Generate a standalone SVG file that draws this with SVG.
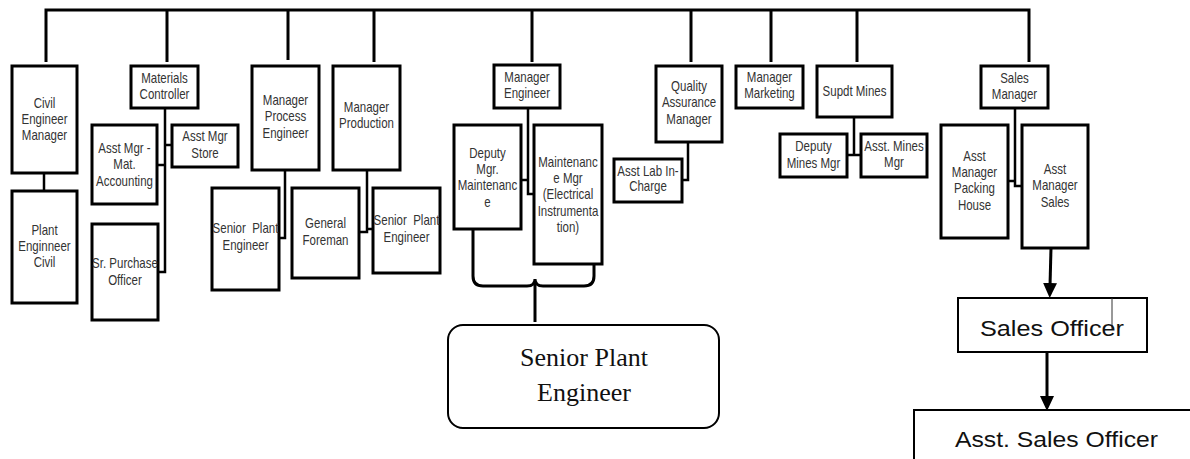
<svg xmlns="http://www.w3.org/2000/svg" width="1190" height="459" viewBox="0 0 1190 459">
<style>
.b{fill:#fff;stroke:#000;stroke-width:3}
.b2{fill:#fff;stroke:#000;stroke-width:2}
.c{fill:none;stroke:#000;stroke-width:3;stroke-linejoin:miter}
.ci{fill:none;stroke:#000;stroke-width:2.5}
.t{font-family:"Liberation Sans",Arial,sans-serif;font-size:11.5px;fill:#333;text-anchor:middle;white-space:pre}
.big{font-family:"Liberation Sans",Arial,sans-serif;font-size:22px;fill:#111}
.ser{font-family:"Liberation Serif","Times New Roman",serif;font-size:26px;fill:#111;text-anchor:middle}
</style>
<defs>
<marker id="ah" viewBox="0 0 15 14" refX="3" refY="7" markerWidth="15" markerHeight="14" markerUnits="userSpaceOnUse" orient="auto">
<path d="M0,0 L15,7 L0,14 z" fill="#000"/>
</marker>
</defs>
<g id="connectors">
<path class="c" d="M46,62 V10 H1029 V62"/>
<path class="c" d="M167,10 V62 M288,10 V60 M374,10 V62 M532,10 V62 M691,10 V62 M771,10 V62 M857,10 V62"/>
<path class="ci" d="M44,173 V191"/>
<path class="ci" d="M165,108 V272 H158 M165,145 H172 M157,165 H165"/>
<path class="ci" d="M285,170 V238 H279"/>
<path class="ci" d="M367,170 V232 H359 M367,229 H373"/>
<path class="ci" d="M528,108 V194 H534 M521,180 H528"/>
<path class="ci" d="M688,142 V180 H682"/>
<path class="ci" d="M854,117 V155 M847,155 H861"/>
<path class="ci" d="M1015,108 V186 H1022 M1008,181 H1015"/>
<path class="c" d="M473,229 V276 Q473,286 483,286 H527 Q535,286 535,279 Q535,286 543,286 H584 Q594,286 594,276 V264"/>
<path class="c" d="M535,282 V322"/>
<path class="c" d="M1051,248 L1050,286" marker-end="url(#ah)"/>
<path class="c" d="M1047,352 L1047,399" marker-end="url(#ah)"/>
</g>
<g id="civil-engineer-manager"><rect class="b" x="12" y="66" width="65" height="107"/>
<text class="t" transform="translate(44.5,108) scale(1,1.25)"><tspan x="0" y="0">Civil</tspan><tspan x="0" dy="12.8">Engineer</tspan><tspan x="0" dy="12.8">Manager</tspan></text></g>
<g id="plant-engineer-civil"><rect class="b" x="12" y="191" width="65" height="112"/>
<text class="t" transform="translate(44.5,235) scale(1,1.25)"><tspan x="0" y="0">Plant</tspan><tspan x="0" dy="12.8">Enginneer</tspan><tspan x="0" dy="12.8">Civil</tspan></text></g>
<g id="materials-controller"><rect class="b" x="131" y="66" width="67" height="42"/>
<text class="t" transform="translate(164.5,83) scale(1,1.25)"><tspan x="0" y="0">Materials</tspan><tspan x="0" dy="13">Controller</tspan></text></g>
<g id="asst-mgr-mat-accounting"><rect class="b" x="92" y="125" width="65" height="79"/>
<text class="t" transform="translate(124.5,153) scale(1,1.25)"><tspan x="0" y="0">Asst Mgr -</tspan><tspan x="0" dy="13.2">Mat.</tspan><tspan x="0" dy="13.2">Accounting</tspan></text></g>
<g id="asst-mgr-store"><rect class="b" x="172" y="125" width="66" height="42"/>
<text class="t" transform="translate(205,141) scale(1,1.25)"><tspan x="0" y="0">Asst Mgr</tspan><tspan x="0" dy="13.6">Store</tspan></text></g>
<g id="sr-purchase-officer"><rect class="b" x="92" y="224" width="66" height="96"/>
<text class="t" transform="translate(125,268) scale(1,1.25)"><tspan x="0" y="0">Sr. Purchase</tspan><tspan x="0" dy="13.6">Officer</tspan></text></g>
<g id="manager-process-engineer"><rect class="b" x="252" y="66" width="67" height="104"/>
<text class="t" transform="translate(285.5,105) scale(1,1.25)"><tspan x="0" y="0">Manager</tspan><tspan x="0" dy="13.2">Process</tspan><tspan x="0" dy="13.2">Engineer</tspan></text></g>
<g id="senior-plant-engineer-1"><rect class="b" x="212" y="188" width="67" height="102"/>
<text class="t" transform="translate(245.5,233) scale(1,1.25)"><tspan x="0" y="0">Senior  Plant</tspan><tspan x="0" dy="13.6">Engineer</tspan></text></g>
<g id="manager-production"><rect class="b" x="333" y="66" width="67" height="104"/>
<text class="t" transform="translate(366.5,112) scale(1,1.25)"><tspan x="0" y="0">Manager</tspan><tspan x="0" dy="12.8">Production</tspan></text></g>
<g id="general-foreman"><rect class="b" x="292" y="188" width="67" height="90"/>
<text class="t" transform="translate(325.5,228) scale(1,1.25)"><tspan x="0" y="0">General</tspan><tspan x="0" dy="13.6">Foreman</tspan></text></g>
<g id="senior-plant-engineer-2"><rect class="b" x="373" y="188" width="67" height="85"/>
<text class="t" transform="translate(406.5,225) scale(1,1.25)"><tspan x="0" y="0">Senior  Plant</tspan><tspan x="0" dy="13.6">Engineer</tspan></text></g>
<g id="manager-engineer"><rect class="b" x="494" y="65" width="66" height="43"/>
<text class="t" transform="translate(527,82) scale(1,1.25)"><tspan x="0" y="0">Manager</tspan><tspan x="0" dy="12.8">Engineer</tspan></text></g>
<g id="deputy-mgr-maintenance"><rect class="b" x="454" y="125" width="67" height="104"/>
<text class="t" transform="translate(487.5,158) scale(1,1.25)"><tspan x="0" y="0">Deputy</tspan><tspan x="0" dy="13">Mgr.</tspan><tspan x="0" dy="13">Maintenanc</tspan><tspan x="0" dy="13">e</tspan></text></g>
<g id="maintenance-mgr"><rect class="b" x="534" y="125" width="68" height="139"/>
<text class="t" transform="translate(568,167) scale(1,1.25)"><tspan x="0" y="0">Maintenanc</tspan><tspan x="0" dy="13">e Mgr</tspan><tspan x="0" dy="13">(Electrical</tspan><tspan x="0" dy="13">Instrumenta</tspan><tspan x="0" dy="13">tion)</tspan></text></g>
<g id="senior-plant-engineer-main"><rect x="448" y="325" width="271" height="103" rx="15" fill="#fff" stroke="#000" stroke-width="2"/>
<text class="ser" x="584" y="366">Senior Plant</text><text class="ser" x="584" y="401">Engineer</text></g>
<g id="quality-assurance-manager"><rect class="b" x="656" y="66" width="66" height="76"/>
<text class="t" transform="translate(689,91) scale(1,1.25)"><tspan x="0" y="0">Quality</tspan><tspan x="0" dy="13.2">Assurance</tspan><tspan x="0" dy="13.2">Manager</tspan></text></g>
<g id="asst-lab-in-charge"><rect class="b" x="614" y="159" width="68" height="43"/>
<text class="t" transform="translate(648,176) scale(1,1.25)"><tspan x="0" y="0">Asst Lab In-</tspan><tspan x="0" dy="12.4">Charge</tspan></text></g>
<g id="manager-marketing"><rect class="b" x="736" y="66" width="67" height="42"/>
<text class="t" transform="translate(769.5,82) scale(1,1.25)"><tspan x="0" y="0">Manager</tspan><tspan x="0" dy="12.8">Marketing</tspan></text></g>
<g id="supdt-mines"><rect class="b" x="817" y="66" width="75" height="51"/>
<text class="t" transform="translate(854.5,96) scale(1,1.25)">Supdt Mines</text></g>
<g id="deputy-mines-mgr"><rect class="b" x="780" y="134" width="67" height="43"/>
<text class="t" transform="translate(813.5,151) scale(1,1.25)"><tspan x="0" y="0">Deputy</tspan><tspan x="0" dy="13.4">Mines Mgr</tspan></text></g>
<g id="asst-mines-mgr"><rect class="b" x="861" y="134" width="66" height="43"/>
<text class="t" transform="translate(894,151) scale(1,1.25)"><tspan x="0" y="0">Asst. Mines</tspan><tspan x="0" dy="12.8">Mgr</tspan></text></g>
<g id="sales-manager"><rect class="b" x="981" y="66" width="67" height="42"/>
<text class="t" transform="translate(1014.5,83) scale(1,1.25)"><tspan x="0" y="0">Sales</tspan><tspan x="0" dy="12.8">Manager</tspan></text></g>
<g id="asst-manager-packing-house"><rect class="b" x="941" y="125" width="67" height="113"/>
<text class="t" transform="translate(974.5,161) scale(1,1.25)"><tspan x="0" y="0">Asst</tspan><tspan x="0" dy="13">Manager</tspan><tspan x="0" dy="13">Packing</tspan><tspan x="0" dy="13.4">House</tspan></text></g>
<g id="asst-manager-sales"><rect class="b" x="1022" y="125" width="66" height="123"/>
<text class="t" transform="translate(1055,174) scale(1,1.25)"><tspan x="0" y="0">Asst</tspan><tspan x="0" dy="13">Manager</tspan><tspan x="0" dy="13.2">Sales</tspan></text></g>
<g id="sales-officer"><rect class="b2" x="958" y="298" width="189" height="54"/>
<line x1="1112" y1="298" x2="1112" y2="330" stroke="#333" stroke-width="1"/>
<text class="big" x="980" y="336" textLength="144" lengthAdjust="spacingAndGlyphs">Sales Officer</text></g>
<g id="asst-sales-officer"><rect class="b2" x="914" y="410" width="290" height="60"/>
<text class="big" x="955" y="447" textLength="203" lengthAdjust="spacingAndGlyphs">Asst. Sales Officer</text></g>
</svg>
